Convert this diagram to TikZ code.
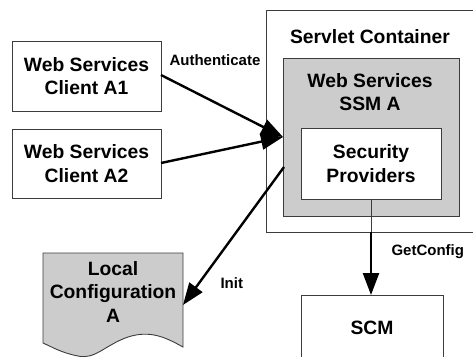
\documentclass[tikz,border=0pt]{standalone}
\usepackage{fontspec}
\setmainfont{Liberation Sans}
\usetikzlibrary{arrows.meta}
\definecolor{boxgray}{RGB}{204,204,204}
\definecolor{edgegray}{RGB}{60,60,60}
\begin{document}
\begin{tikzpicture}[x=1pt,y=-1pt,
  box/.style={draw=edgegray,line width=0.9pt},
  big/.style={font=\fontsize{19.3}{23.5}\selectfont\bfseries,align=center},
  lbl/.style={font=\fontsize{15}{17}\selectfont\bfseries},
  arr/.style={line width=2.4pt,-{Triangle[length=22pt,width=16pt]}},
  thin/.style={line width=0.9pt,draw=edgegray}]
\useasboundingbox (0,0) rectangle (473,356);
\begin{scope}
\clip (0,0) rectangle (473,356);
% servlet container
\draw[box,fill=white] (266,10) rectangle (480,232);
\node[big] (sc) at (370,37) {Servlet Container};
% SSM
\draw[box,fill=boxgray] (283,58) rectangle (459,216);
\coordinate (ssmw) at (283,137);
\node[big] (ssm) at (370,92) {Web Services\\SSM A};
% security providers
\draw[box,fill=white] (301,128) rectangle (441,199);
\node[big] (sp) at (371,163.5) {Security\\Providers};
\coordinate (spS) at (371,199);
\coordinate (scB) at (371,232);
% clients
\draw[box,fill=white] (12,41) rectangle (161,111);
\node[big] (a1) at (86.5,76) {Web Services\\Client A1};
\coordinate (a1E) at (161,75);
\draw[box,fill=white] (12,129) rectangle (161,198);
\node[big] (a2) at (86.5,163.5) {Web Services\\Client A2};
\coordinate (a2E) at (161,163);
% SCM
\draw[box,fill=white] (301,295) rectangle (443,370);
\node[big] (scm) at (372,328) {SCM};
\coordinate (scmN) at (371,295);
% local configuration
\draw[box,fill=boxgray] (43,253) -- (183,253) -- (183,347)
  .. controls (165,337) and (150,330) .. (128,337)
  .. controls (105,345) and (95,360) .. (78,356)
  .. controls (62,353) and (52,347) .. (43,343) -- cycle;
\node[big] (lc) at (113,292) {Local\\Configuration\\A};
\coordinate (lcE) at (183,305);
\coordinate (ssmI) at (284,167);
% connectors
\draw[arr] (a1E) -- (ssmw);
\draw[arr] (a2E) -- (ssmw);
\draw[thin] (spS) -- (scB);
\draw[arr] (scB) -- (scmN);
\draw[arr] (ssmI) -- (lcE);
% labels
\node[lbl,anchor=west] (auth) at (166,60) {Authenticate};
\node[lbl,anchor=west] (gc) at (388,252) {GetConfig};
\node[lbl,anchor=west] (init) at (217,283) {Init};
\end{scope}
\end{tikzpicture}
\end{document}
